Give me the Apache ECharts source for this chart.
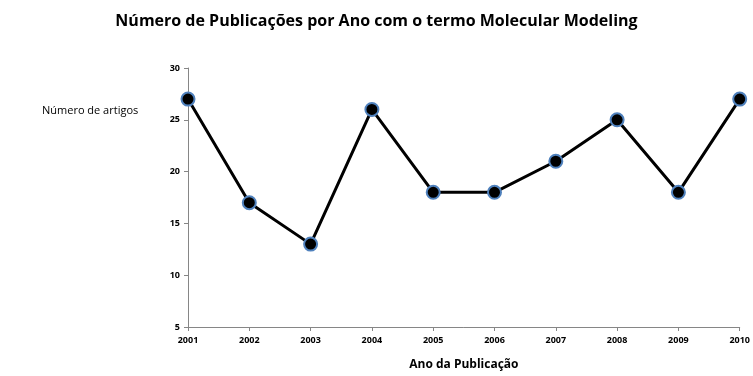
<!DOCTYPE html>
<html>
<head>
<meta charset="utf-8">
<script src="https://cdn.jsdelivr.net/npm/echarts@6/dist/echarts.min.js"></script>
<style>
  html, body { margin: 0; padding: 0; background: #fff; }
  #chart { width: 753px; height: 376px; }
</style>
</head>
<body>
<div id="chart"></div>
<script>
// Publication years and article counts
const anos = ['2001', '2002', '2003', '2004', '2005', '2006', '2007', '2008', '2009', '2010'];
const artigos = [27, 17, 13, 26, 18, 18, 21, 25, 18, 27];
const yTicks = [5, 10, 15, 20, 25, 30];

const chart = echarts.init(document.getElementById('chart'));
const fontFam = '"Open Sans", "Liberation Sans", sans-serif';

chart.setOption({
  animation: false,
  backgroundColor: '#ffffff',
  title: [
    {
      text: 'Número de Publicações por Ano com o termo Molecular Modeling',
      left: 'center',
      top: 8,
      textStyle: { fontFamily: fontFam, fontSize: 16, fontWeight: 'bold', color: '#000' }
    },
    {
      text: 'Número de artigos',
      left: 37,
      top: 100,
      textStyle: { fontFamily: fontFam, fontSize: 11, fontWeight: 'normal', color: '#000' }
    }
  ],
  grid: { left: 188, right: 11, top: 68, bottom: 48 },
  xAxis: {
    type: 'category',
    data: anos,
    boundaryGap: false,
    name: 'Ano da Publicação',
    nameLocation: 'middle',
    nameGap: 32,
    nameTextStyle: { fontFamily: fontFam, fontSize: 12, fontWeight: 'bold', color: '#000' },
    axisLine: { lineStyle: { color: '#868686', width: 1 } },
    axisTick: { alignWithLabel: true, length: 4, lineStyle: { color: '#868686' } },
    axisLabel: { fontFamily: fontFam, fontSize: 9, fontWeight: 'bold', color: '#000', margin: 9 },
    splitLine: { show: false }
  },
  yAxis: {
    type: 'value',
    min: yTicks[0],
    max: yTicks[yTicks.length - 1],
    interval: 5,
    axisLine: { show: true, lineStyle: { color: '#868686', width: 1 } },
    axisTick: { show: true, length: 4, lineStyle: { color: '#868686' } },
    axisLabel: { fontFamily: fontFam, fontSize: 9, fontWeight: 'bold', color: '#000', margin: 8 },
    splitLine: { show: false }
  },
  series: [{
    type: 'line',
    data: artigos,
    symbol: 'circle',
    symbolSize: 13,
    lineStyle: { color: '#000', width: 3 },
    itemStyle: { color: '#000', borderColor: '#4f81bd', borderWidth: 2 }
  }]
});
</script>
</body>
</html>
